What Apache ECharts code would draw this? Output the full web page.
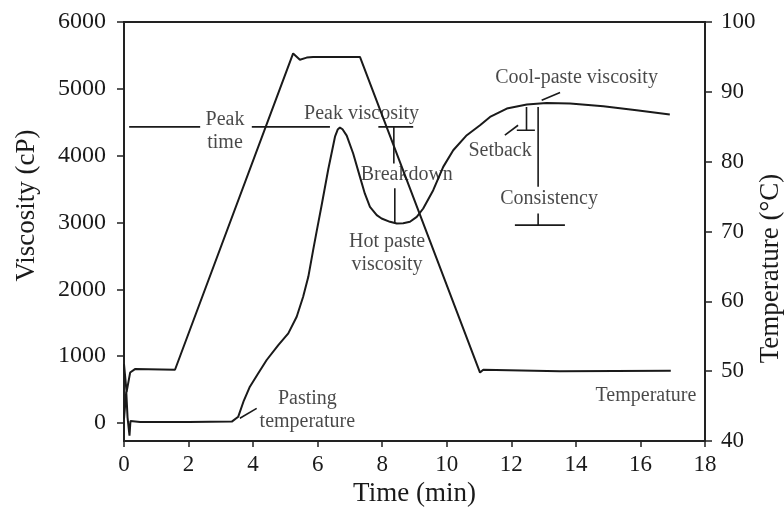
<!DOCTYPE html>
<html>
<head>
<meta charset="utf-8">
<script src="https://cdn.jsdelivr.net/npm/echarts@6/dist/echarts.min.js"></script>
<style>
  html, body { margin: 0; padding: 0; background: #fff; }
  #chart { width: 784px; height: 519px; }
</style>
</head>
<body>
<div id="chart"></div>
<script>
// time (min) and values
var tempTime = [0, 0.08, 0.19, 0.34, 1.58, 5.24, 5.45, 5.66, 5.86, 7.31, 11.03, 11.13, 13.5, 16.94];
var tempValue = [51, 47.0, 49.8, 50.3, 50.2, 95.5, 94.6, 94.9, 95.0, 95.0, 49.8, 50.2, 50.0, 50.05];

var viscTime = [0, 0.07, 0.11, 0.17, 0.2, 0.5, 2.0, 3.34, 3.54, 3.70, 3.90, 4.16, 4.42, 4.78, 5.09, 5.35,
  5.55, 5.71, 5.86, 5.97, 6.12, 6.33, 6.54, 6.62, 6.69, 6.77, 6.90, 7.10, 7.31, 7.46, 7.62, 7.83, 7.98, 8.24, 8.45,
  8.65, 8.86, 9.07, 9.27, 9.58, 9.89, 10.2, 10.62, 11.03, 11.34, 11.86, 12.48, 13.09, 13.82, 14.85, 15.88, 16.91];
var viscValue = [60, 470, 80, -190, 30, 15, 15, 20, 94, 318, 543, 743, 942, 1166, 1341, 1589,
  1888, 2187, 2586, 2870, 3250, 3800, 4290, 4390, 4420, 4395, 4300, 4032, 3682, 3434, 3234, 3110, 3060, 3010, 2985,
  2990, 3010, 3084, 3209, 3483, 3832, 4081, 4306, 4455, 4580, 4705, 4765, 4789, 4780, 4740, 4680, 4615];

var viscTicks = [0, 1000, 2000, 3000, 4000, 5000, 6000];

// annotation segments in (time, viscosity) units
var guides = [
  [[0.16, 4430], [2.36, 4430]],
  [[3.96, 4430], [6.38, 4430]],
  [[7.88, 4430], [8.96, 4430]],
  [[8.36, 4430], [8.36, 3883]],
  [[8.39, 3513], [8.39, 2985]],
  [[3.59, 70], [4.11, 219]],
  [[12.94, 4829], [13.51, 4944]],
  [[11.8, 4306], [12.21, 4455]],
  [[12.17, 4380], [12.73, 4380]],
  [[12.47, 4380], [12.47, 4729]],
  [[12.83, 4729], [12.83, 3533]],
  [[12.83, 3135], [12.83, 2960]],
  [[12.11, 2960], [13.66, 2960]]
];

var noteText = ['Peak\ntime', 'Peak viscosity', 'Breakdown', 'Hot paste\nviscosity', 'Pasting\ntemperature',
  'Cool-paste viscosity', 'Setback', 'Consistency', 'Temperature'];
var noteTime = [3.13, 7.36, 8.76, 8.15, 5.68, 14.02, 11.65, 13.17, 16.17];
var noteVisc = [4365, 4620, 3708, 2541, 194, 5173, 4066, 3356, 411];

var chart = echarts.init(document.getElementById('chart'));
var serif = 'Liberation Serif';
var ink = '#1a1a1a';

var series = [
  {
    type: 'line',
    yAxisIndex: 1,
    symbol: 'none',
    lineStyle: { color: ink, width: 2 },
    data: tempTime.map(function (t, i) { return [t, tempValue[i]]; })
  },
  {
    type: 'line',
    yAxisIndex: 0,
    symbol: 'none',
    lineStyle: { color: ink, width: 2 },
    data: viscTime.map(function (t, i) { return [t, viscValue[i]]; })
  }
];

guides.forEach(function (seg) {
  series.push({
    type: 'line',
    yAxisIndex: 0,
    symbol: 'none',
    silent: true,
    lineStyle: { color: ink, width: 1.6 },
    data: seg
  });
});

series.push({
  type: 'scatter',
  yAxisIndex: 0,
  symbolSize: 0,
  silent: true,
  z: 5,
  label: {
    show: true,
    position: [0, 0],
    align: 'center',
    verticalAlign: 'middle',
    fontFamily: serif,
    fontSize: 20,
    lineHeight: 23,
    color: ink,
    formatter: function (p) { return noteText[p.dataIndex]; }
  },
  data: noteTime.map(function (t, i) { return [t, noteVisc[i]]; })
});

option = {
  animation: false,
  backgroundColor: '#fff',
  grid: {
    left: 124,
    right: 79,
    top: 22,
    bottom: 78,
    outerBoundsMode: 'none',
    containLabel: false,
    show: true,
    borderColor: '#222',
    borderWidth: 2
  },
  xAxis: {
    type: 'value',
    min: 0,
    max: 18,
    interval: 2,
    name: 'Time (min)',
    nameLocation: 'middle',
    nameGap: 36,
    nameTextStyle: { fontFamily: serif, fontSize: 27, color: ink },
    axisLine: { onZero: false, lineStyle: { color: '#222', width: 2 } },
    axisTick: { length: 6, lineStyle: { color: '#222', width: 1.5 } },
    axisLabel: { fontFamily: serif, fontSize: 23, color: ink, margin: 12 },
    splitLine: { show: false }
  },
  yAxis: [
    {
      type: 'value',
      position: 'left',
      min: -270,
      max: 6000,
      name: 'Viscosity (cP)',
      nameLocation: 'middle',
      nameRotate: 90,
      nameGap: 84,
      nameTextStyle: { fontFamily: serif, fontSize: 27, color: ink, padding: [0, 0, 0, 52] },
      axisLine: { show: true, lineStyle: { color: '#222', width: 2 } },
      axisTick: { show: true, length: 7, customValues: viscTicks, lineStyle: { color: '#222', width: 1.5 } },
      axisLabel: {
        fontFamily: serif, fontSize: 24, color: ink, margin: 18, customValues: viscTicks,
        formatter: function (v) { return String(v); }
      },
      splitLine: { show: false }
    },
    {
      type: 'value',
      position: 'right',
      min: 40,
      max: 100,
      interval: 10,
      name: 'Temperature (\u00b0C)',
      nameLocation: 'middle',
      nameRotate: 90,
      nameGap: 52,
      nameMoveOverlap: false,
      nameTextStyle: { fontFamily: serif, fontSize: 27, color: ink, padding: [0, 74, 0, 0] },
      axisLine: { show: true, lineStyle: { color: '#222', width: 2 } },
      axisTick: { show: true, length: 7, lineStyle: { color: '#222', width: 1.5 } },
      axisLabel: { fontFamily: serif, fontSize: 23, color: ink, margin: 16 },
      splitLine: { show: false }
    }
  ],
  series: series
};

chart.setOption(option);
</script>
</body>
</html>
